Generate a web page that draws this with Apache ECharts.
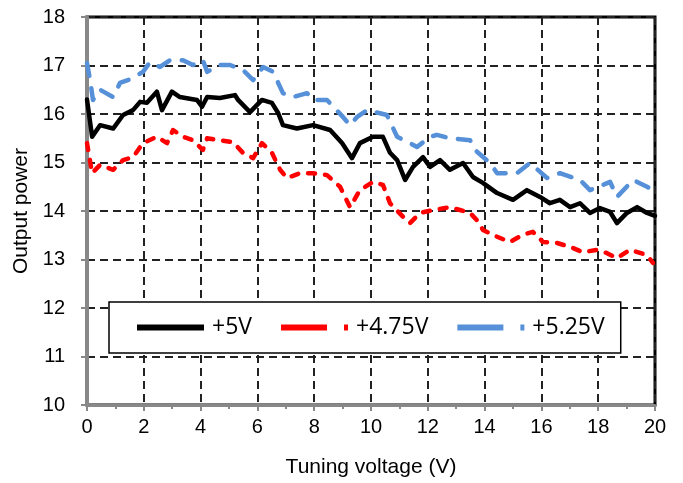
<!DOCTYPE html>
<html>
<head>
<meta charset="utf-8">
<script src="https://cdn.jsdelivr.net/npm/echarts@6/dist/echarts.min.js"></script>
<style>
  html, body { margin: 0; padding: 0; background: #fff; }
  #chart { width: 683px; height: 483px; }
</style>
</head>
<body>
<div id="chart"></div>
<script>
// +5V (solid black)
const volt5 = [
    [0, 16.3], [0.18, 15.53], [0.46, 15.77], [0.92, 15.7], [1.27, 15.98], [1.62, 16.08],
    [1.87, 16.25], [2.11, 16.23], [2.46, 16.46], [2.64, 16.08], [2.99, 16.46], [3.27, 16.35],
    [3.87, 16.29], [4.05, 16.15], [4.23, 16.35], [4.68, 16.33], [5.21, 16.39], [5.32, 16.29],
    [5.74, 16.04], [6.16, 16.29], [6.51, 16.23], [6.73, 16.02], [6.9, 15.77], [7.39, 15.7],
    [7.96, 15.77], [8.56, 15.67], [8.98, 15.4], [9.33, 15.09], [9.61, 15.4], [10.07, 15.53],
    [10.42, 15.53], [10.67, 15.2], [10.92, 15.05], [11.2, 14.64], [11.48, 14.91], [11.83, 15.11],
    [12.08, 14.91], [12.43, 15.05], [12.78, 14.85], [13.24, 14.99], [13.59, 14.7], [13.94, 14.58],
    [14.44, 14.37], [15.0, 14.23], [15.49, 14.43], [15.95, 14.29], [16.3, 14.16], [16.65, 14.23],
    [17.01, 14.08], [17.36, 14.16], [17.71, 13.96], [18.06, 14.06], [18.42, 13.98], [18.66, 13.75],
    [19.01, 13.96], [19.37, 14.08], [19.72, 13.96], [20, 13.9]
];

// +4.75V (red dashes)
const volt475 = [
    [0, 15.4], [0.18, 14.78], [0.46, 14.95], [0.92, 14.85], [1.27, 15.05], [1.62, 15.11],
    [1.97, 15.4], [2.46, 15.53], [2.82, 15.4], [3.03, 15.67], [3.38, 15.53], [3.73, 15.46],
    [4.08, 15.26], [4.23, 15.5], [4.68, 15.46], [5.14, 15.42], [5.49, 15.2], [5.85, 15.09],
    [6.16, 15.4], [6.51, 15.2], [6.8, 14.85], [7.04, 14.68], [7.5, 14.78], [7.96, 14.78],
    [8.45, 14.74], [8.91, 14.5], [9.26, 14.08], [9.61, 14.43], [10.07, 14.6], [10.42, 14.54],
    [10.67, 14.16], [11.13, 13.88], [11.37, 13.75], [11.73, 13.96], [12.18, 14.02], [12.78, 14.08],
    [13.13, 14.02], [13.49, 13.96], [13.73, 13.81], [13.94, 13.61], [14.44, 13.47], [14.89, 13.36],
    [15.35, 13.51], [15.7, 13.57], [16.06, 13.36], [16.55, 13.34], [17.01, 13.26], [17.46, 13.15],
    [17.96, 13.2], [18.31, 13.13], [18.66, 13.03], [19.12, 13.2], [19.72, 13.09], [19.93, 12.93]
];

// +5.25V (blue long dashes)
const volt525 = [
    [0, 17.05], [0.11, 16.7], [0.21, 16.29], [0.46, 16.5], [0.92, 16.35], [1.16, 16.64],
    [1.62, 16.74], [1.97, 16.87], [2.22, 17.07], [2.57, 16.97], [2.92, 17.11], [3.38, 17.11],
    [3.73, 17.01], [4.08, 17.11], [4.23, 16.87], [4.68, 17.01], [5.04, 17.01], [5.49, 16.91],
    [5.85, 16.7], [6.2, 16.97], [6.55, 16.87], [6.9, 16.43], [7.25, 16.35], [7.75, 16.43],
    [7.96, 16.29], [8.45, 16.29], [9.01, 15.94], [9.26, 15.77], [9.51, 15.94], [9.86, 16.08],
    [10.21, 16.03], [10.56, 15.98], [10.92, 15.53], [11.37, 15.4], [11.62, 15.32], [12.08, 15.53],
    [12.32, 15.57], [12.78, 15.5], [13.49, 15.46], [13.66, 15.26], [14.19, 14.99], [14.44, 14.78],
    [15.14, 14.78], [15.6, 14.99], [16.2, 14.68], [16.65, 14.78], [17.36, 14.64], [17.71, 14.43],
    [18.42, 14.6], [18.66, 14.29], [19.23, 14.64], [19.72, 14.5], [19.93, 14.43]
];

const seriesNames = ['+5V', '+4.75V', '+5.25V'];

const chart = echarts.init(document.getElementById('chart'));

const gridDash = { color: '#222', width: 2, type: [8, 5] };
const font = 'Liberation Sans, Arial, sans-serif';

chart.setOption({
    animation: false,
    grid: {
        left: 87, right: 28, top: 17, bottom: 78,
        show: true,
        borderColor: '#000',
        borderWidth: 3
    },
    legend: {
        left: 109,
        top: 302,
        padding: [14, 16, 14, 25],
        itemGap: 26,
        itemWidth: 67,
        itemHeight: 1,
        backgroundColor: '#fff',
        borderColor: '#000',
        borderWidth: 1.5,
        borderRadius: 0,
        itemStyle: { opacity: 0 },
        textStyle: { fontFamily: 'Open Sans, sans-serif', fontSize: 23, color: '#000', padding: [0, 0, 0, 3] },
        data: [
            { name: seriesNames[0], lineStyle: { width: 6, type: 'solid', cap: 'butt' } },
            { name: seriesNames[1], lineStyle: { width: 6, type: [46, 17], cap: 'butt' } },
            { name: seriesNames[2], lineStyle: { width: 6, type: [46, 17], cap: 'butt' } }
        ]
    },
    xAxis: {
        type: 'value',
        min: 0, max: 20, interval: 2,
        name: 'Tuning voltage (V)',
        nameLocation: 'middle',
        nameGap: 52,
        nameTextStyle: { fontFamily: font, fontSize: 21, color: '#000' },
        axisLine: { show: true, onZero: false, lineStyle: { color: '#888', width: 3 } },
        axisTick: { show: true, length: 6, lineStyle: { color: '#888', width: 2 } },
        minorTick: { show: true, splitNumber: 2, length: 4, lineStyle: { color: '#888', width: 2 } },
        axisLabel: { fontFamily: font, fontSize: 20, color: '#000', margin: 12 },
        splitLine: { show: true, lineStyle: gridDash }
    },
    yAxis: {
        type: 'value',
        min: 10, max: 18, interval: 1,
        name: 'Output power',
        nameLocation: 'middle',
        nameGap: 53,
        nameRotate: 90,
        nameTextStyle: { fontFamily: font, fontSize: 21, color: '#000' },
        axisLine: { show: true, onZero: false, lineStyle: { color: '#888', width: 4 } },
        axisTick: { show: true, length: 6, lineStyle: { color: '#888', width: 2 } },
        axisLabel: { fontFamily: font, fontSize: 20, color: '#000', margin: 22 },
        splitLine: { show: true, lineStyle: gridDash }
    },
    series: [
        {
            name: seriesNames[0], type: 'line', data: volt5,
            symbol: 'none', z: 4,
            lineStyle: { color: '#000', width: 4.5, cap: 'round', join: 'round' },
            itemStyle: { color: '#000' }
        },
        {
            name: seriesNames[1], type: 'line', data: volt475,
            symbol: 'none', z: 3,
            lineStyle: { color: '#ff0000', width: 4.5, type: [7, 10], cap: 'round', join: 'round' },
            itemStyle: { color: '#ff0000' }
        },
        {
            name: seriesNames[2], type: 'line', data: volt525,
            symbol: 'none', z: 3,
            lineStyle: { color: '#5590d8', width: 4.5, type: [13, 12.5], cap: 'round', join: 'round' },
            itemStyle: { color: '#5590d8' }
        }
    ]
});
</script>
</body>
</html>
